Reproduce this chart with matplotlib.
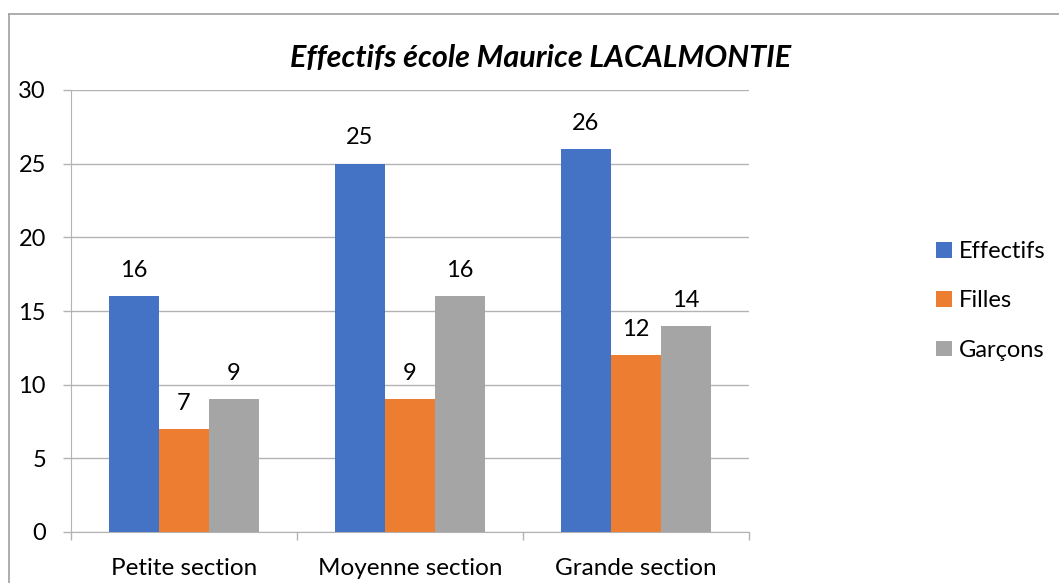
import matplotlib.pyplot as plt
import numpy as np
from matplotlib.lines import Line2D

plt.rcParams['font.family'] = ['Lato', 'DejaVu Sans']

categories = ['Petite section', 'Moyenne section', 'Grande section']
effectifs = [16, 25, 26]
filles = [7, 9, 12]
garcons = [9, 16, 14]
series_names = ['Effectifs', 'Filles', 'Garçons']
colors = ['#4472C4', '#ED7D31', '#A5A5A5']

fig = plt.figure(figsize=(10.59, 5.83), dpi=100)
ax = fig.add_axes([71 / 1059, 1 - 532 / 583, 678 / 1059, 442 / 583])

x = np.arange(len(categories))
w = 50 / 226
handles = []
for i, (vals, name, col) in enumerate(zip([effectifs, filles, garcons], series_names, colors)):
    bars = ax.bar(x + (i - 1) * w, vals, w, color=col, label=name, zorder=3)
    handles.append(bars)
    for b, v in zip(bars, vals):
        ax.annotate(str(v), (b.get_x() + b.get_width() / 2, v), xytext=(0, 18.5),
                    textcoords='offset points', ha='center', va='center', fontsize=17)

ax.set_xlim(-0.5, 2.5)
ax.set_ylim(0, 30)
ax.set_yticks(range(0, 31, 5))
ax.grid(axis='y', color='#b3b3b3', linewidth=1, zorder=0)
for s in ['top', 'right']:
    ax.spines[s].set_visible(False)
ax.spines['left'].set_color('#b3b3b3')
ax.spines['bottom'].set_color('#b3b3b3')
ax.tick_params(axis='y', length=6, width=1, color='#b3b3b3', labelsize=17, pad=12)
ax.set_xticks([-0.5, 0.5, 1.5, 2.5], minor=False)
ax.set_xticklabels([])
ax.tick_params(axis='x', which='major', length=6, width=1, color='#b3b3b3')
ax.set_xticks(x, minor=True)
ax.set_xticklabels(categories, minor=True)
ax.tick_params(axis='x', which='minor', length=0, labelsize=17.5, pad=19)

fig.text(541 / 1059, 1 - 58 / 583, 'Effectifs école Maurice LACALMONTIE', ha='center', va='center',
         fontsize=22, fontweight='bold', fontstyle='italic')

fig.legend(handles=handles, labels=series_names, loc='center left', bbox_to_anchor=(915 / 1059, 1 - 301 / 583),
           frameon=False, fontsize=17, handlelength=0.65, handleheight=0.65, handletextpad=0.3, labelspacing=1.2)

fig.add_artist(Line2D([9 / 1059, 9 / 1059], [0, 1 - 14 / 583], color='#a0a0a0', linewidth=1.2))
fig.add_artist(Line2D([9 / 1059, 1], [1 - 14 / 583, 1 - 14 / 583], color='#a0a0a0', linewidth=1.2))

fig.savefig('out.png', dpi=100)
